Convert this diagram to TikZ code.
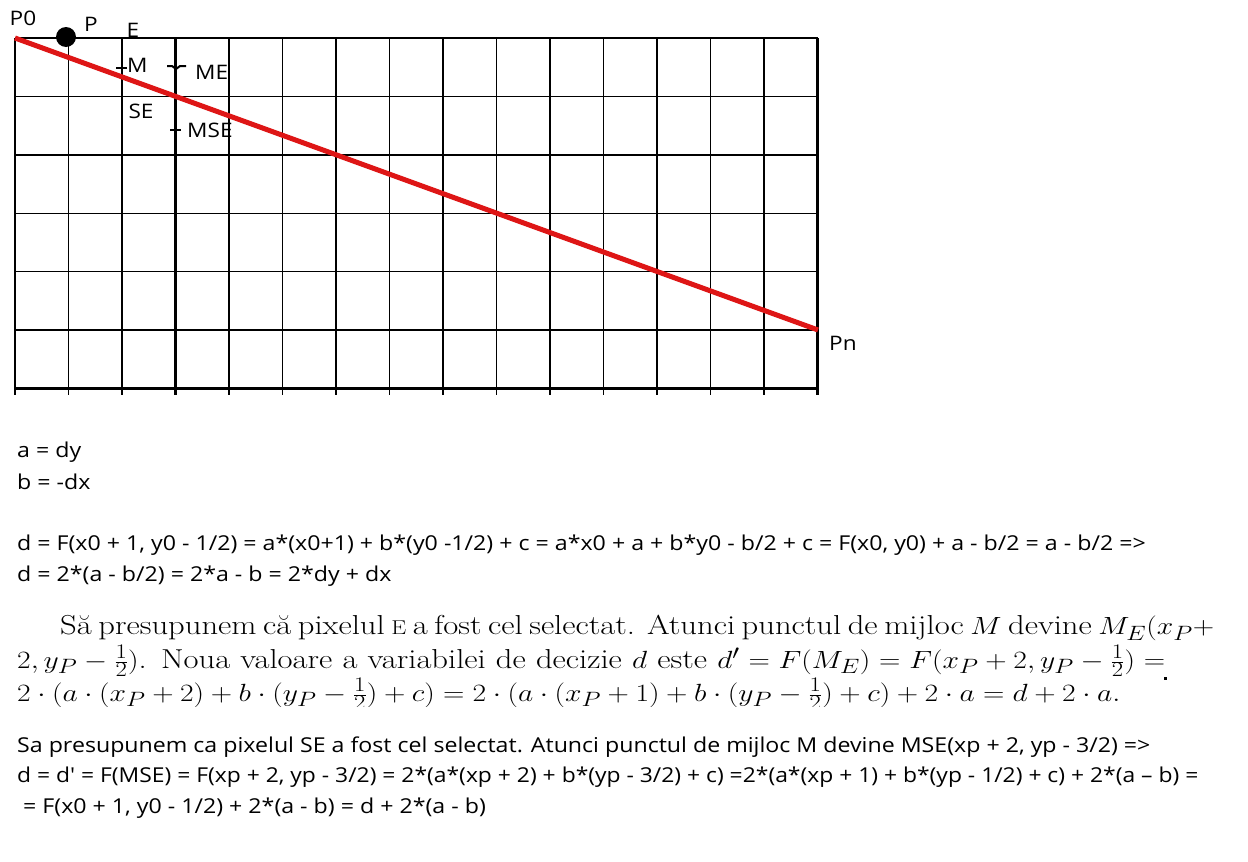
\documentclass[tikz,border=0pt]{standalone}
\usepackage{graphicx}
\usepackage{fontspec}
\setmainfont{Latin Modern Roman}
\newfontfamily\uisans{Open Sans}
\newcommand{\hx}[1]{\scalebox{1.19}[1]{#1}}
\newcommand{\hs}[1]{\scalebox{1.13}[1]{#1}}
\newcommand{\smE}{{\fontsize{20}{20}\selectfont E}}
\begin{document}
\begin{tikzpicture}[x=1pt,y=-1pt,
  gridthin/.style={line width=1.4pt,black},
  gridthick/.style={line width=2.3pt,black},
  redline/.style={line width=5pt,color={rgb,255:red,222;green,22;blue,22}},
  tick/.style={line width=2pt,black},
  lbl/.style={font=\uisans\fontsize{20}{22}\selectfont,inner sep=0pt},
  txt/.style={font=\uisans\fontsize{20.5}{24}\selectfont,inner sep=0pt,anchor=west},
  tex/.style={font=\fontsize{27.4}{33}\selectfont,inner sep=0pt,anchor=west}]
\useasboundingbox (0,0) rectangle (1248,862);
% grid
\foreach \i in {0,1,4,5,7,8,9,10,11,12,13}
  \draw[gridthin] ({15+53.5*\i},38) -- ({15+53.5*\i},395);
\foreach \i in {2,3,6,14,15}
  \draw[gridthick] ({15+53.5*\i},38) -- ({15+53.5*\i},395);
\foreach \j in {0,1,2,3,4}
  \draw[gridthin] (15,{38+58.4*\j}) -- (818,{38+58.4*\j});
\foreach \j in {5,6}
  \draw[gridthick] (15,{38+58.4*\j}) -- (818,{38+58.4*\j});
% points
\coordinate (p0) at (15,38);
\coordinate (pn) at (818,330);
\draw[redline] (p0) -- (pn);
\fill (66,37) circle (10);
\node[lbl] (lp0) at (23,18) {\hs{P0}};
\node[lbl] (lp) at (91,24) {\hs{P}};
\node[lbl] (le) at (133,30) {\hs{E}};
\node[lbl,anchor=west] (lm) at (127,65) {\hs{M}};
\node[lbl,anchor=west] (lme) at (195,72) {\hs{ME}};
\node[lbl] (lse) at (141,111) {\hs{SE}};
\node[lbl,anchor=west] (lmse) at (187,130) {\hs{MSE}};
\node[lbl,anchor=west] (lpn) at (829,343) {\hs{Pn}};
\draw[tick] (116,68) -- (127,68);
\draw[tick] (167,66) -- (172,66) -- (176,69) -- (180,66) -- (186,66);
\draw[tick] (170,130) -- (181,130);
% sans text
\node[txt] (t1) at (17,452) {\hs{a = dy}};
\node[txt] (t2) at (17,482) {\hs{b = -dx}};
\node[txt] (t3) at (17,545) {\hs{d = F(x0 + 1, y0 - 1/2) = a*(x0+1) + b*(y0 -1/2) + c = a*x0 + a + b*y0 - b/2 + c = F(x0, y0) + a - b/2 = a - b/2 =>}};
\node[txt] (t4) at (17,576) {\hs{d = 2*(a - b/2) = 2*a - b = 2*dy + dx}};
% LaTeX paragraph
\node[tex] (l1) at (60,628) {\hx{\makebox[928.6pt][s]{Să presupunem că pixelul \smE{} a fost cel selectat. Atunci punctul de mijloc $M$ devine $M_E(x_P+$}}};
\node[tex] (l2) at (17,661) {\hx{\makebox[964.7pt][s]{$2, y_P - \frac{1}{2})$. Noua valoare a variabilei de decizie $d$ este $d' = F(M_E) = F(x_P+2, y_P-\frac{1}{2}) =$}}};
\begin{scope}
\clip (0,600) rectangle (1248,706);
\node[tex] (l3) at (17,694) {\hx{$2\cdot(a\cdot(x_P+2)+b\cdot(y_P-\frac{1}{2})+c) = 2\cdot(a\cdot(x_P+1)+b\cdot(y_P-\frac{1}{2})+c)+2\cdot a = d+2\cdot a.$}};
\end{scope}
\fill (1163.5,676.5) rectangle (1167,680);
% sans text 2
\node[txt] (t5) at (17,747) {\hs{Sa presupunem ca pixelul SE a fost cel selectat. Atunci punctul de mijloc M devine MSE(xp + 2, yp - 3/2) =>}};
\node[txt] (t6) at (17,777) {\scalebox{1.115}[1]{d = d' = F(MSE) = F(xp + 2, yp - 3/2) = 2*(a*(xp + 2) + b*(yp - 3/2) + c) =2*(a*(xp + 1) + b*(yp - 1/2) + c) + 2*(a – b) =}};
\node[txt] (t7) at (17,808) {\hs{ = F(x0 + 1, y0 - 1/2) + 2*(a - b) = d + 2*(a - b)}};
\end{tikzpicture}
\end{document}
